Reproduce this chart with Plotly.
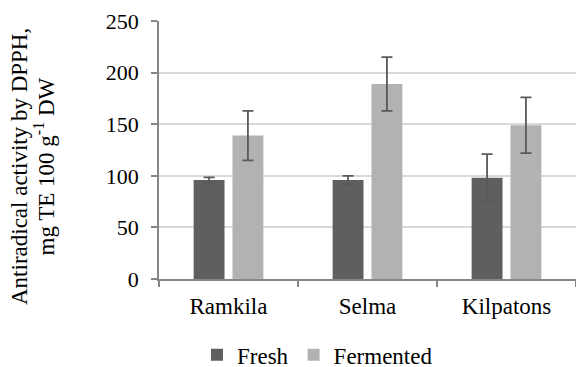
import plotly.graph_objects as go

# Antiradical activity (DPPH) of fresh vs fermented samples
categories = ["Ramkila", "Selma", "Kilpatons"]
fresh = [96, 96, 98]
fresh_err = [2.5, 4, 23]
fermented = [139, 189, 149]
fermented_err = [24, 26, 27]
y_ticks = [0, 50, 100, 150, 200, 250]
y_title_lines = ["Antiradical activity by DPPH,", "mg TE 100 g<sup>-1</sup> DW"]

SERIF = "Liberation Serif"
FS = 23
FS_Y = 22
ERR_COLOR = "#595959"
AXIS_COLOR = "#868686"
TEXT_COLOR = "#000000"

fig = go.Figure()
fig.add_trace(go.Bar(
    name="Fresh", x=categories, y=fresh,
    marker=dict(color="#5f5f5f"),
    error_y=dict(type="data", array=fresh_err, color=ERR_COLOR, thickness=1.8, width=5.5),
))
fig.add_trace(go.Bar(
    name="Fermented", x=categories, y=fermented,
    marker=dict(color="#b2b2b2"),
    error_y=dict(type="data", array=fermented_err, color=ERR_COLOR, thickness=1.8, width=5.5),
))

fig.update_layout(
    template="none",
    width=576, height=367,
    font=dict(family=SERIF, size=FS, color=TEXT_COLOR),
    margin=dict(l=159, r=0, t=21, b=88),
    barmode="group", bargap=0.441, bargroupgap=0.205,
    legend=dict(
        font=dict(family=SERIF, size=FS, color=TEXT_COLOR),
        orientation="h", xref="container", yref="container",
        x=0.342, xanchor="left", y=0.033, yanchor="middle",
    ),
)
fig.update_xaxes(
    tickfont=dict(family=SERIF, size=FS, color=TEXT_COLOR),
    showline=True, linecolor=AXIS_COLOR, linewidth=1.5,
    ticks="outside", tickson="boundaries", ticklen=6, tickcolor=AXIS_COLOR, tickwidth=1.5,
    ticklabelstandoff=6, showgrid=False,
)
fig.update_yaxes(
    tickvals=y_ticks, tickfont=dict(family=SERIF, size=FS_Y, color=TEXT_COLOR),
    range=[0, 250],
    showgrid=True, gridcolor="#d9d9d9", gridwidth=1.5,
    showline=True, linecolor=AXIS_COLOR, linewidth=1.5,
    ticks="outside", ticklen=6, tickcolor=AXIS_COLOR, tickwidth=1.5,
    ticklabelstandoff=8, zeroline=False,
)

# Two-line rotated y-axis title
for line, xpx in zip(y_title_lines, [19.5, 45.0]):
    fig.add_annotation(
        text=line, xref="paper", yref="paper",
        x=(xpx - 159) / 417, y=0.436, xanchor="center", yanchor="middle",
        textangle=-90, showarrow=False,
        font=dict(family=SERIF, size=FS, color=TEXT_COLOR),
    )

fig.write_html("out.html")
